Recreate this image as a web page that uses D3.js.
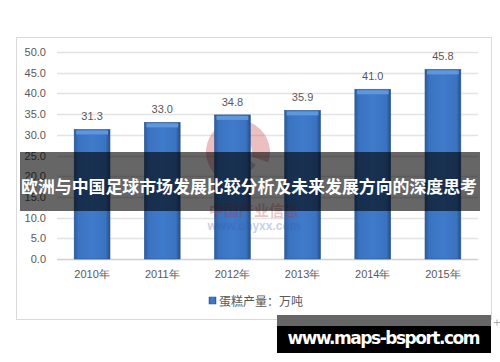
<!DOCTYPE html>
<html>
<head>
<meta charset="utf-8">
<script src="https://cdn.jsdelivr.net/npm/d3@7"></script>
<style>
  body { margin: 0; background: #fff; }
  svg { display: block; font-family: "Noto Sans CJK SC", "Liberation Sans", sans-serif; }
</style>
</head>
<body>
<svg width="500" height="362"></svg>
<script>
var years = ["2010年", "2011年", "2012年", "2013年", "2014年", "2015年"];
var output = [31.3, 33.0, 34.8, 35.9, 41.0, 45.8];
var yTicks = [0, 5, 10, 15, 20, 25, 30, 35, 40, 45, 50];
var seriesName = "蛋糕产量：万吨";
var bannerTitle = "欧洲与中国足球市场发展比较分析及未来发展方向的深度思考";
var siteName = "www.maps-bsport.com";

var svg = d3.select("svg");
var margin = {top: 52, left: 57, right: 22, bottom: 103};
var width = 500 - margin.left - margin.right;
var height = 362 - margin.top - margin.bottom;

var data = years.map(function(y, i) { return {year: y, value: output[i]}; });

var x = d3.scaleBand().domain(years).range([0, width]).paddingInner(0.49).paddingOuter(0.245);
var y = d3.scaleLinear().domain([0, 50]).range([height, 0]);

// gradient for bars
var defs = svg.append("defs");
var grad = defs.append("linearGradient").attr("id", "barGrad").attr("x1", 0).attr("x2", 1).attr("y1", 0).attr("y2", 0);
grad.append("stop").attr("offset", "0%").attr("stop-color", "#2b5c9e");
grad.append("stop").attr("offset", "12%").attr("stop-color", "#3a73c0");
grad.append("stop").attr("offset", "50%").attr("stop-color", "#3f7bcb");
grad.append("stop").attr("offset", "88%").attr("stop-color", "#3a73c0");
grad.append("stop").attr("offset", "100%").attr("stop-color", "#264f8a");

// chart frame
svg.append("rect")
  .attr("x", 16.5).attr("y", 37.5).attr("width", 475).attr("height", 282)
  .attr("fill", "#fff").attr("stroke", "#d9d9d9");

var g = svg.append("g").attr("transform", "translate(" + margin.left + "," + margin.top + ")");

// gridlines
g.append("g").selectAll("line").data(yTicks).enter().append("line")
  .attr("x1", 0).attr("x2", width)
  .attr("y1", function(d) { return Math.round(y(d)) + 0.5; })
  .attr("y2", function(d) { return Math.round(y(d)) + 0.5; })
  .attr("stroke", function(d) { return d === 0 ? "#d0d0d0" : "#e3e3e3"; })
  .attr("stroke-width", 1.5);

// y axis labels
var yAxis = g.append("g")
  .call(d3.axisLeft(y).tickValues(yTicks).tickFormat(d3.format(".1f")).tickSize(0).tickPadding(11));
yAxis.select(".domain").remove();
yAxis.selectAll("text").attr("fill", "#595959").attr("font-size", 11).attr("font-family", "Liberation Sans, sans-serif");

// watermark
var wm = g.append("g").attr("opacity", 0.3);
wm.append("path")
  .attr("transform", "translate(" + (238 - margin.left) + "," + (152 - margin.top) + ")")
  .attr("d", d3.arc().innerRadius(14).outerRadius(32).startAngle(-2.6).endAngle(1.9)())
  .attr("fill", "#c0303a");
wm.append("path")
  .attr("transform", "translate(" + (238 - margin.left) + "," + (152 - margin.top) + ")")
  .attr("d", d3.arc().innerRadius(0).outerRadius(22).startAngle(2.2).endAngle(4.6)())
  .attr("fill", "#3a5aa8");

// bars
var bars = g.append("g").selectAll("g").data(data).enter().append("g");
bars.append("rect")
  .attr("x", function(d) { return x(d.year); })
  .attr("y", function(d) { return y(d.value); })
  .attr("width", x.bandwidth())
  .attr("height", function(d) { return height - y(d.value); })
  .attr("fill", "url(#barGrad)")
  .attr("stroke", "#2a5591").attr("stroke-width", 0.6);
bars.append("rect")
  .attr("x", function(d) { return x(d.year) + 2; })
  .attr("y", function(d) { return y(d.value) + 1; })
  .attr("width", x.bandwidth() - 4)
  .attr("height", 4)
  .attr("fill", "#5f97dc");
bars.append("text")
  .attr("x", function(d) { return x(d.year) + x.bandwidth() / 2; })
  .attr("y", function(d) { return y(d.value) - 9; })
  .attr("text-anchor", "middle")
  .attr("font-size", 11)
  .attr("font-family", "Liberation Sans, sans-serif")
  .attr("fill", "#595959")
  .text(function(d) { return d.value.toFixed(1); });

// watermark text (drawn over bars, faint)
var wmt = g.append("g").attr("opacity", 0.28).attr("text-anchor", "middle");
wmt.append("text").attr("x", 254 - margin.left).attr("y", 216 - margin.top)
  .attr("font-size", 15).attr("font-weight", "bold").attr("fill", "#c0303a").text("中国产业信息");
wmt.append("text").attr("x", 254 - margin.left).attr("y", 230 - margin.top)
  .attr("font-size", 12).attr("font-weight", "bold").attr("fill", "#3a5aa8")
  .attr("font-family", "Liberation Sans, sans-serif").text("www.chyxx.com");

// x axis labels
var xAxis = g.append("g").attr("transform", "translate(0," + height + ")")
  .call(d3.axisBottom(x).tickSize(0).tickPadding(11));
xAxis.select(".domain").remove();
xAxis.selectAll("text").attr("fill", "#595959").attr("font-size", 11);

// legend
var legend = svg.append("g").attr("transform", "translate(209,297)");
legend.append("rect").attr("width", 7).attr("height", 7).attr("fill", "url(#barGrad)").attr("stroke", "#2a5591").attr("stroke-width", 0.5);
legend.append("text").attr("x", 10).attr("y", 8.5).attr("font-size", 12).attr("fill", "#595959").text(seriesName);

// banner overlay
svg.append("rect").attr("x", 20).attr("y", 152).attr("width", 460).attr("height", 59)
  .attr("fill", "#000").attr("opacity", 0.6);
svg.append("text").attr("x", 249).attr("y", 193)
  .attr("text-anchor", "middle").attr("font-size", 16.5).attr("font-weight", "bold")
  .attr("textLength", 456).attr("lengthAdjust", "spacingAndGlyphs")
  .attr("fill", "#fff").text(bannerTitle);

// site box
svg.append("rect").attr("x", 277).attr("y", 315).attr("width", 214).attr("height", 11).attr("fill", "#666");
svg.append("rect").attr("x", 277).attr("y", 326).attr("width", 214).attr("height", 27).attr("fill", "#000");
svg.append("text").attr("x", 384).attr("y", 344)
  .attr("text-anchor", "middle").attr("font-size", 17).attr("font-weight", "bold")
  .attr("font-family", "DejaVu Sans, sans-serif").attr("textLength", 193)
  .attr("fill", "#fff").text(siteName);
svg.append("path").attr("d", "M494,322.5h6M497,319.5v6").attr("stroke", "#999").attr("stroke-width", 0.8);
</script>
</body>
</html>
